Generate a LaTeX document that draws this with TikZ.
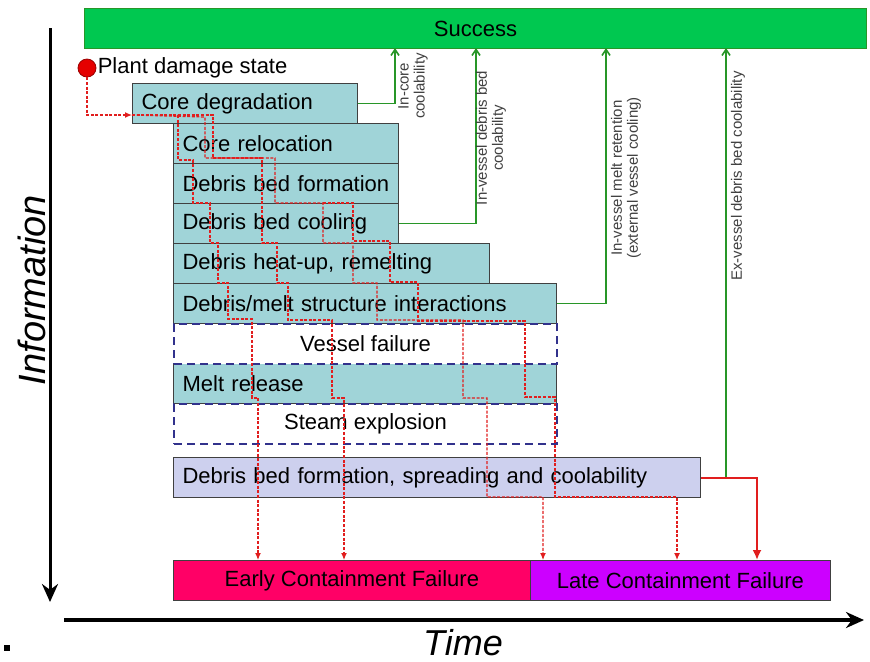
\documentclass[tikz,border=0pt]{standalone}
\usepackage{fontspec}
\setmainfont{Liberation Sans}
\usepackage{tikz}
\usetikzlibrary{arrows.meta, calc}
\definecolor{succgreen}{RGB}{0,200,80}
\definecolor{arrgreen}{RGB}{40,150,40}
\definecolor{phaseteal}{RGB}{160,212,216}
\definecolor{lavender}{RGB}{205,208,238}
\definecolor{edge}{RGB}{64,64,64}
\definecolor{dashnavy}{RGB}{50,50,140}
\definecolor{earlyfill}{RGB}{255,0,102}
\definecolor{latefill}{RGB}{204,0,255}
\definecolor{redline}{RGB}{225,30,30}
\tikzset{
  phase/.style={draw=edge, line width=0.6pt, fill=phaseteal, minimum height=20pt, inner xsep=4.5pt, inner ysep=0pt, align=left, anchor=north west, font=\fontsize{11}{13}\selectfont},
  phasedash/.style={draw=dashnavy, line width=1pt, dash pattern=on 4pt off 2.5pt, fill=white, minimum height=20pt, inner sep=0pt, align=center, anchor=north west, font=\fontsize{11}{13}\selectfont},
  endbox/.style={draw=edge, line width=0.4pt, minimum height=20pt, inner sep=0pt, anchor=north west, font=\fontsize{11}{13}\selectfont},
  reddots/.style={draw=redline, line width=0.6pt, dash pattern=on 1.5pt off 0.8pt},
  redtip/.style={-{Latex[length=3.5pt,width=3pt,fill=redline]}},
  greenarr/.style={draw=arrgreen, line width=0.8pt, -{Straight Barb[length=3pt,width=4pt]}},
  sidelabel/.style={rotate=90, align=center, inner sep=0pt, text=black!75, font=\fontsize{7.5}{8}\selectfont}
}

\begin{document}
\begin{tikzpicture}[x=0.5pt, y=-0.5pt]
    \useasboundingbox (0,0) rectangle (870,661);
    % Success
    \node[draw=arrgreen, line width=0.5pt, fill=succgreen, minimum width=391pt, minimum height=20pt, inner sep=0pt, anchor=north west, font=\fontsize{11}{13}\selectfont] (success) at (84,8) {Success};
    % stato iniziale
    \node[circle, fill=red!90!black, draw=red!60!black, line width=0.4pt, minimum size=9pt, inner sep=0pt] (pds) at (87,68) {};
    \node[right, inner xsep=0.5pt, font=\fontsize{11}{13}\selectfont] (pdstext) at (pds.east) {Plant damage state};
    % Fasi
    \node[phase, text width=103.5pt] (coredeg) at (132,83) {Core degradation};
    \node[phase, text width=103.5pt] (coreloc) at (173,123) {Core relocation};
    \node[phase, text width=103.5pt] (bedform) at (173,163) {Debris bed formation};
    \node[phase, text width=103.5pt] (bedcool) at (173,203) {Debris bed cooling};
    \node[phase, text width=149pt] (heatup) at (173,243) {Debris heat-up, remelting};
    \node[phase, text width=182.5pt] (interact) at (173,283) {Debris/melt structure interactions};
    \node[phase, text width=182.5pt] (melt) at (173,363) {Melt release};
    \node[phasedash, minimum width=191.5pt] (vessel) at (173,323) {Vessel failure};
    \node[phasedash, minimum width=191.5pt] (steam) at (173,403) {Steam explosion};
    \node[phase, fill=lavender, text width=254.5pt] (spread) at (173,457) {Debris bed formation, spreading and coolability};
    % Esiti
    \node[endbox, fill=earlyfill, minimum width=178.5pt] (earlycf) at (173,560) {Early Containment Failure};
    \node[endbox, fill=latefill, minimum width=150pt] (latecf) at (530,560) {Late Containment Failure};
    % Coordinate
    \coordinate (entry) at (132,115);
    \coordinate (sucA) at (395,48);
    \coordinate (sucB) at (476,48);
    \coordinate (sucC) at (606,48);
    \coordinate (sucD) at (726,48);
    \coordinate (lateup) at (757,560);
    \coordinate (endA) at (258,560);
    \coordinate (endB) at (344,560);
    \coordinate (endC) at (543,560);
    \coordinate (endD) at (677,560);
    % percorsi tratteggiati rossi
    \draw[reddots, redtip] (pds.south) |- (entry);
    \draw[reddots, redtip] (entry) -- (178,115) -- (178,160) -- (193,160) -- (193,203) -- (210,203) -- (210,243) -- (218,243) -- (218,283) -- (228,283) -- (228,319) -- (252,319) -- (252,398) -- (258,398) -- (endA);
    \draw[reddots, redtip] (entry) -- (213,115) -- (213,158) -- (262,158) -- (262,243) -- (277,243) -- (277,283) -- (288,283) -- (288,320) -- (332,320) -- (332,398) -- (344,398) -- (endB);
    \draw[reddots, redtip] (entry) -- (205,117) -- (205,158) -- (275,158) -- (275,203) -- (323,203) -- (323,243) -- (353,243) -- (353,283) -- (377,283) -- (377,320) -- (463,320) -- (463,398) -- (487,398) -- (487,497) -- (543,497) -- (endC);
    \draw[reddots, redtip] (323,203) -- (353,203) -- (353,241) -- (390,241) -- (390,282) -- (418,282) -- (418,321) -- (525,321) -- (525,397) -- (555,397) -- (555,497) -- (677,497) -- (endD);
    % frecce verdi
    \draw[greenarr] (coredeg.east) -| (sucA);
    \draw[greenarr] (bedcool.east) -| (sucB);
    \draw[greenarr] (interact.east) -| (sucC);
    \draw[greenarr] (spread.east) -| (sucD);
    \draw[draw=redline, line width=1pt, -{Latex[length=5pt,width=4.5pt,fill=redline]}] (spread.east) -| (lateup);
    % etichette
    \node[sidelabel] (lblA) at (413,86) {In-core\\coolability};
    \node[sidelabel] (lblB) at (491,138) {In-vessel debris bed\\coolability};
    \node[sidelabel] (lblC) at (626,178) {In-vessel melt retention\\(external vessel cooling)};
    \node[sidelabel] (lblD) at (738,176) {Ex-vessel debris bed coolability};
    % assi
    \coordinate (infotop) at (50,28);
    \coordinate (infobot) at (50,602);
    \coordinate (timeleft) at (64,620);
    \coordinate (timeright) at (864,620);
    \draw[line width=1.5pt, -{Stealth[length=9pt,width=8pt]}] (infotop) -- (infobot);
    \draw[line width=1.8pt, -{Stealth[length=9pt,width=8pt]}] (timeleft) -- (timeright);
    \node[rotate=90, font=\fontsize{19}{21}\itshape] (info) at (32,290) {Information};
    \node[anchor=base, inner sep=0pt, font=\fontsize{18}{20}\itshape] (time) at (463,655) {Time};
    % punto
    \fill (4,645) rectangle (10,651);
\end{tikzpicture}
\end{document}
